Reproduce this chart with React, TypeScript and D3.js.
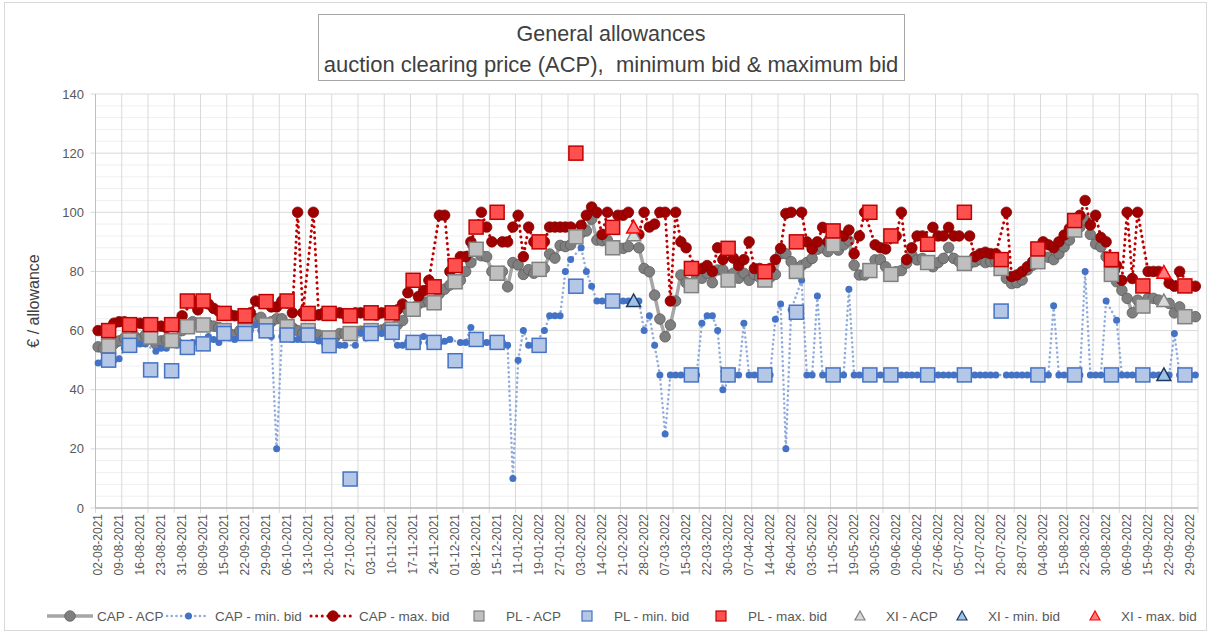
import { useEffect } from 'react'
import * as d3 from 'd3'

const W = 1211
const H = 633
const nCats = 210

// category labels, one every 4 auctions
const xLabels = [
  '02-08-2021', '09-08-2021', '16-08-2021', '23-08-2021', '31-08-2021', '08-09-2021',
  '15-09-2021', '22-09-2021', '29-09-2021', '06-10-2021', '13-10-2021', '20-10-2021',
  '27-10-2021', '03-11-2021', '10-11-2021', '17-11-2021', '24-11-2021', '01-12-2021',
  '08-12-2021', '15-12-2021', '11-01-2022', '19-01-2022', '27-01-2022', '03-02-2022',
  '14-02-2022', '21-02-2022', '28-02-2022', '07-03-2022', '15-03-2022', '22-03-2022',
  '30-03-2022', '07-04-2022', '14-04-2022', '26-04-2022', '03-05-2022', '11-05-2022',
  '19-05-2022', '30-05-2022', '09-06-2022', '20-06-2022', '27-06-2022', '05-07-2022',
  '12-07-2022', '20-07-2022', '28-07-2022', '04-08-2022', '15-08-2022', '22-08-2022',
  '30-08-2022', '06-09-2022', '15-09-2022', '22-09-2022', '29-09-2022',
]
const yTicks = [0, 20, 40, 60, 80, 100, 120, 140]

// PL auctions (category index)
const plIdx = [2, 6, 10, 14, 17, 20, 24, 28, 32, 36, 40, 44, 48, 52, 56, 60, 64, 68, 72, 76,
  84, 91, 98, 113, 120, 127, 133, 140, 147, 151, 158, 165, 172, 179, 186, 193, 199, 207]
const plAcp = [54.8, 56.8, 57.8, 56.6, 61.3, 61.9, 60, 60, 61.9, 61.3, 60, 57.5, 59, 60, 60.5,
  67.2, 69.4, 76.5, 87.5, 79.4, 80.7, 91.7, 88, 75.2, 77.1, 77.1, 80, 89, 80.3, 79, 83, 82.7,
  81, 83.3, 94, 79, 68.3, 64.7]
const plMin = [50, 55, 46.7, 46.4, 54.3, 55.5, 59, 59, 59.9, 58.5, 58.5, 54.9, 9.8, 59, 59.4,
  56, 56, 49.8, 57, 56, 55, 75, 70, 45, 45, 45, 66.2, 45, 45, 45, 45, 45, 66.6, 45, 45, 45, 45, 45]
const plMax = [60, 62, 62, 62, 70, 70, 65.8, 65, 69.8, 70, 65.8, 65.8, 65, 66, 66, 77, 74.8, 82,
  95, 100, 90, 120, 94.9, 81, 87.8, 79.9, 90, 93.7, 100, 92, 89.2, 100, 84, 87.6, 97.2, 84,
  75.1, 75.1]

// XI auctions
const xiIdx = [102, 203]
const xiAcp = [92.3, 70]
const xiMin = [70, 45]
const xiMax = [94.9, 79.6]

// CAP auctions: every other category, in order
const capAcp = [
  54.5, 54, 55.5, 56.5, 57.5, 58, 57, 58.5, 55.5, 56.5, 57, 56, 60, 63, 62,
  62, 61.5, 61, 59, 58.5, 60, 62, 64, 64.5, 63, 64, 64, 61, 60, 59,
  59, 58.5, 57, 57.5, 59, 59, 59.5, 59.8, 60, 60, 60.2, 61, 62, 63.4, 66.8,
  69, 69.7, 69.7, 72.5, 74, 75.4, 77, 80, 83, 85.3, 85, 80,
  80, 74.8, 83, 82.2, 79, 80.6, 79.4, 81, 85.9, 84.5, 88.8, 88.4, 89,
  93, 93.7, 97.7, 90.6, 90.4, 90.6, 88, 87.8, 88.4,
  88, 81, 79.9, 72, 63.9, 57.9, 61.9, 70, 78.8, 76.2,
  77.7, 77.7, 79.4, 76.2, 80.5, 80.5, 79.4, 77.7, 79.4, 77, 79, 78,
  78, 79, 86, 86, 83.3, 82, 83, 84.4, 87.5, 88, 86.7,
  87.2, 89, 90.4, 82.1, 78.8, 78.8, 83.9, 84, 81.6,
  79.9, 80.3, 82.8, 85.6, 83.9, 84.4, 81.6, 83, 84.4, 88.1, 84.4, 83.3,
  82.7, 83.3, 84, 83, 83.3, 83.3, 77.6, 75.9, 76.2, 77.1, 80.5, 82.1,
  85, 84.8, 84, 86, 88.3, 90.6, 95, 97.4, 92.5, 89.3, 88.3, 85,
  76.5, 73.6, 70.9, 66, 70.3, 70.9, 70.9, 70.3, 69.2, 66, 68, 64.7, 64.7,
]
const capMin = [
  49, 49.5, 50, 50.5, 54, 55.5, 55.5, 55.5, 53, 54, 54, 55, 55, 56, 56,
  58, 57, 56, 57.5, 57, 58, 60, 62, 60, 58, 20, 58, 57, 57, 57,
  57, 56.5, 56, 55, 55, 55, 55, 59.3, 57.5, 59, 59, 60, 55, 55, 56.4,
  56, 58, 56, 56, 56.4, 57, 56, 56, 61, 56, 56, 56,
  56, 55, 10, 50, 60, 55, 55, 60, 65, 65, 65, 80, 84,
  88, 80, 75, 70, 70, 70, 70, 70, 70,
  70, 60, 65, 55, 45, 25, 45, 45, 45, 45,
  45, 62.5, 65, 65, 60, 40, 45, 45, 62.5, 45, 45, 45,
  45, 63.8, 69, 20, 67, 77, 45, 45, 71.7, 45, 45,
  45, 45, 74, 45, 45, 45, 45, 45, 45,
  45, 45, 45, 45, 45, 45, 45, 45, 45, 45, 45, 45,
  45, 45, 45, 45, 45, 45, 45, 45, 45, 45, 45, 45,
  45, 45, 68.4, 45, 45, 45, 45, 80, 45, 45, 45, 70,
  63.5, 45, 45, 45, 45, 45, 45, 45, 45, 59, 45, 45, 45,
]
const capMax = [
  60, 60, 62.5, 63, 63, 62.5, 62.5, 62, 61.5, 61.5, 61, 62, 65, 70, 67,
  69, 67.5, 66.5, 65.5, 65, 65, 66, 70, 69.5, 68, 68, 70, 66, 100, 66,
  100, 65.3, 66, 66, 66, 65.5, 66, 66, 66, 65.3, 66, 66, 67, 69, 72.8,
  71.5, 73.5, 77, 99, 99, 80, 85, 85, 90, 100, 95, 90,
  90, 90, 95, 99, 85, 95, 90, 90, 95, 95, 95, 95, 95,
  95.6, 99, 101.8, 100, 92.5, 100, 99, 99, 100,
  92.5, 100, 95, 96, 100, 100, 70, 100, 90, 88,
  80.5, 81, 82, 80, 88, 84, 84.5, 82, 84, 90, 81, 81,
  81, 84, 87.8, 99.6, 100, 100, 90, 87.6, 90, 94.9, 90,
  92.3, 92, 94, 86, 92, 100, 89, 88, 87.6,
  92, 100, 84, 88, 92, 92, 94.9, 92, 92, 94.9, 92, 92,
  92, 85, 86, 86.5, 86, 86, 100, 78.3, 78.8, 80, 81.6, 83.3,
  90, 89, 88, 90, 92.3, 94.5, 99, 104, 95.7, 99, 91.5, 90,
  82, 77, 100, 77.6, 100, 80, 80, 80, 76, 75, 80, 75, 75,
]

const capIdx = d3.range(nCats).filter(i => !plIdx.includes(i) && !xiIdx.includes(i))

const font = "'Liberation Sans', Arial, sans-serif"

const tri = (x: number, y: number, s: number) =>
  `M${x},${y - s} L${x + s},${y + s * 0.8} L${x - s},${y + s * 0.8} Z`

const App = () => {
  useEffect(() => {
    document.body.style.margin = '0'
  }, [])

  const plot = { left: 95.5, right: 1198, top: 94, bottom: 508 }
  const x = d3.scaleLinear().domain([0, nCats]).range([plot.left, plot.right])
  const cx = (i: number) => x(i + 0.5)
  const y = d3.scaleLinear().domain([0, 140]).range([plot.bottom, plot.top])

  const line = d3
    .line<[number, number]>()
    .x(d => cx(d[0]))
    .y(d => y(d[1]))

  const pts = (vals: number[]) => capIdx.map((c, k) => [c, vals[k]] as [number, number])
  const acpPts = pts(capAcp)
  const minPts = pts(capMin)
  const maxPts = pts(capMax)

  const minorTicks = d3.range(0, 141, 4).filter(v => v % 20 !== 0)
  const vGrid = d3.range(0, nCats + 1, 5) // tick marks every 5 auctions

  const sq = 7
  const plSeries = [
    { vals: plAcp, fill: '#bfbfbf', stroke: '#808080' },
    { vals: plMin, fill: '#b4c7e7', stroke: '#4472c4' },
    { vals: plMax, fill: '#ff5050', stroke: '#c00000' },
  ]
  const xiSeries = [
    { vals: xiAcp, fill: '#d9d9d9', stroke: '#808080' },
    { vals: xiMin, fill: '#9dc3e6', stroke: '#1f3864' },
    { vals: xiMax, fill: '#ff7c80', stroke: '#ff0000' },
  ]

  const legendY = 616
  const legendText = (lx: number, t: string) => (
    <text x={lx} y={legendY} dy='0.35em' fontSize={13.5} fill='#595959'>
      {t}
    </text>
  )

  return (
    <svg
      width={W}
      height={H}
      style={{ position: 'absolute', left: 0, top: 0, background: '#fff' }}
      fontFamily={font}
    >
      <rect x={4.5} y={2.5} width={1202} height={628} fill='#fff' stroke='#d9d9d9' />

      {/* title */}
      <rect x={318.5} y={14.5} width={586} height={66} fill='#fff' stroke='#a6a6a6' />
      <text x={611} y={40.5} textAnchor='middle' fontSize={21.5} fill='#404040'>
        General allowances
      </text>
      <text x={611} y={71.5} textAnchor='middle' fontSize={22} fill='#404040'>
        auction clearing price (ACP),{'\u00a0\u00a0'}minimum bid &amp; maximum bid
      </text>

      {/* grid */}
      {minorTicks.map(v => (
        <line key={'m' + v} x1={plot.left} x2={plot.right} y1={y(v)} y2={y(v)} stroke='#efefef' />
      ))}
      {vGrid.map(c => (
        <line key={'v' + c} x1={x(c)} x2={x(c)} y1={plot.top} y2={plot.bottom + 5} stroke='#d9d9d9' />
      ))}
      {yTicks.map(v => (
        <g key={'y' + v}>
          <line x1={plot.left - 5} x2={plot.right} y1={y(v)} y2={y(v)} stroke='#d9d9d9' />
          <text x={84} y={y(v)} dy='0.35em' textAnchor='end' fontSize={13} fill='#595959'>
            {v}
          </text>
        </g>
      ))}
      <line x1={plot.left} x2={plot.left} y1={plot.top} y2={plot.bottom} stroke='#bfbfbf' />
      <line x1={plot.left} x2={plot.right} y1={plot.bottom} y2={plot.bottom} stroke='#a6a6a6' />

      <text
        transform={`translate(39,${(plot.top + plot.bottom) / 2}) rotate(-90)`}
        textAnchor='middle'
        fontSize={16}
        fill='#404040'
      >
        € / allowance
      </text>

      {xLabels.map((l, k) => (
        <text
          key={l + k}
          transform={`translate(${cx(k * 4)},${plot.bottom + 6}) rotate(-90)`}
          textAnchor='end'
          dy='0.35em'
          fontSize={12}
          fill='#595959'
        >
          {l}
        </text>
      ))}

      {/* CAP - ACP */}
      <path d={line(acpPts) ?? ''} fill='none' stroke='#a6a6a6' strokeWidth={3.5} />
      {acpPts.map(d => (
        <circle key={'a' + d[0]} cx={cx(d[0])} cy={y(d[1])} r={5.3} fill='#7f7f7f' stroke='#595959' strokeWidth={0.75} />
      ))}

      {/* CAP - min. bid */}
      <path
        d={line(minPts) ?? ''}
        fill='none'
        stroke='#8faadc'
        strokeWidth={2.5}
        strokeDasharray='0.1 4.6'
        strokeLinecap='round'
      />
      {minPts.map(d => (
        <circle key={'n' + d[0]} cx={cx(d[0])} cy={y(d[1])} r={3.5} fill='#4472c4' />
      ))}

      {/* CAP - max. bid */}
      <path
        d={line(maxPts) ?? ''}
        fill='none'
        stroke='#c00000'
        strokeWidth={3}
        strokeDasharray='0.1 5.5'
        strokeLinecap='round'
      />
      {maxPts.map(d => (
        <circle key={'x' + d[0]} cx={cx(d[0])} cy={y(d[1])} r={5.3} fill='#a00000' stroke='#800000' strokeWidth={0.75} />
      ))}

      {/* PL */}
      {plSeries.map((s, si) =>
        plIdx.map((c, k) => (
          <rect
            key={'p' + si + '-' + c}
            x={cx(c) - sq}
            y={y(s.vals[k]) - sq}
            width={sq * 2}
            height={sq * 2}
            fill={s.fill}
            stroke={s.stroke}
            strokeWidth={1.5}
          />
        ))
      )}

      {/* XI */}
      {xiSeries.map((s, si) =>
        xiIdx.map((c, k) => (
          <path key={'t' + si + '-' + c} d={tri(cx(c), y(s.vals[k]), 7)} fill={s.fill} stroke={s.stroke} strokeWidth={1.5} />
        ))
      )}

      {/* legend */}
      <line x1={47} x2={93} y1={legendY} y2={legendY} stroke='#a6a6a6' strokeWidth={3.5} />
      <circle cx={70} cy={legendY} r={5.3} fill='#7f7f7f' stroke='#595959' strokeWidth={0.75} />
      {legendText(97, 'CAP - ACP')}

      <line x1={167} x2={207} y1={legendY} y2={legendY} stroke='#8faadc' strokeWidth={2.5} strokeDasharray='0.1 4.6' strokeLinecap='round' />
      <circle cx={188.5} cy={legendY} r={3.5} fill='#4472c4' />
      {legendText(215, 'CAP - min. bid')}

      <line x1={311} x2={351} y1={legendY} y2={legendY} stroke='#c00000' strokeWidth={3} strokeDasharray='0.1 5.5' strokeLinecap='round' />
      <circle cx={333} cy={legendY} r={5.3} fill='#a00000' stroke='#800000' strokeWidth={0.75} />
      {legendText(359, 'CAP - max. bid')}

      {[
        { lx: 479, t: 'PL - ACP', s: plSeries[0] },
        { lx: 587, t: 'PL - min. bid', s: plSeries[1] },
        { lx: 721, t: 'PL - max. bid', s: plSeries[2] },
      ].map(o => (
        <g key={o.t}>
          <rect x={o.lx - 5} y={legendY - 5} width={10} height={10} fill={o.s.fill} stroke={o.s.stroke} strokeWidth={1.2} />
          {legendText(o.lx + 27, o.t)}
        </g>
      ))}
      {[
        { lx: 860, t: 'XI - ACP', s: xiSeries[0] },
        { lx: 962, t: 'XI - min. bid', s: xiSeries[1] },
        { lx: 1095, t: 'XI - max. bid', s: xiSeries[2] },
      ].map(o => (
        <g key={o.t}>
          <path d={tri(o.lx, legendY, 5)} fill={o.s.fill} stroke={o.s.stroke} strokeWidth={1.2} />
          {legendText(o.lx + 26, o.t)}
        </g>
      ))}
    </svg>
  )
}

export default App
